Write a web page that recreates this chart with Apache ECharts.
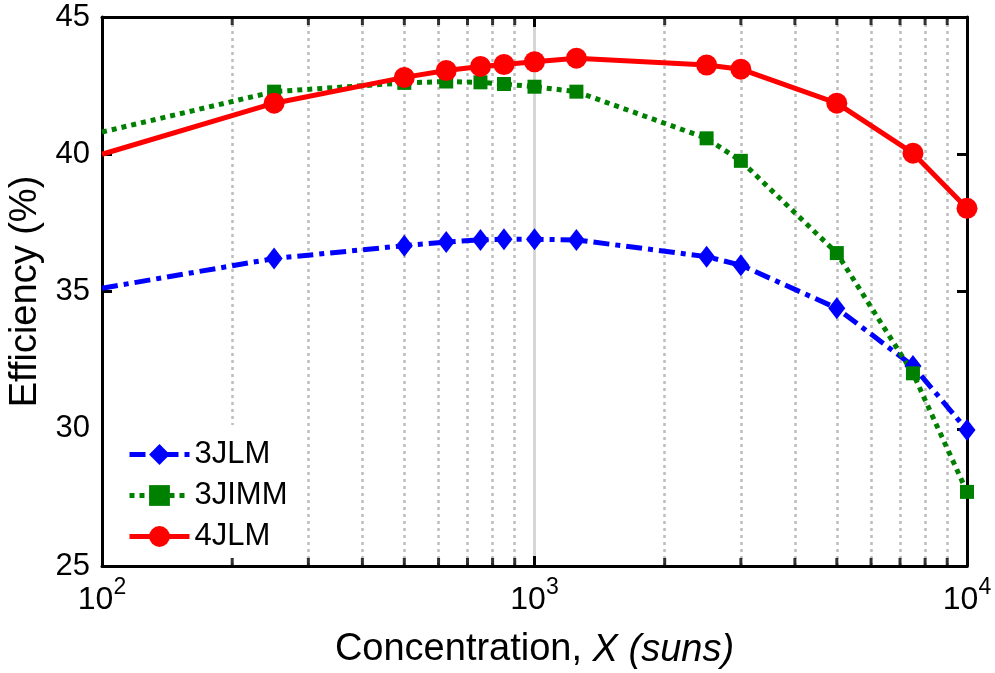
<!DOCTYPE html>
<html>
<head>
<meta charset="utf-8">
<script src="https://cdn.jsdelivr.net/npm/echarts@6/dist/echarts.min.js"></script>
<style>html,body{margin:0;padding:0;background:#fff}#c{width:995px;height:673px}</style>
</head>
<body>
<div id="c"></div>
<script>
// Concentration (suns)
const concentration = [100, 250, 500, 625, 750, 850, 1000, 1250, 2500, 3000, 5000, 7500, 10000];
// Efficiency (%)
const eff3JLM  = [35.12, 36.2, 36.67, 36.8, 36.88, 36.9, 36.9, 36.88, 36.27, 35.96, 34.39, 32.29, 29.95];
const eff3JIMM = [40.81, 42.28, 42.6, 42.65, 42.62, 42.56, 42.46, 42.28, 40.58, 39.76, 36.4, 32.02, 27.7];
const eff4JLM  = [40.0, 41.86, 42.8, 43.05, 43.2, 43.27, 43.37, 43.5, 43.25, 43.1, 41.86, 40.04, 38.03];
const seriesNames = ['3JLM', '3JIMM', '4JLM'];
// minor ticks / minor grid positions
const minorTicks = [200, 300, 400, 500, 600, 700, 800, 900, 2000, 3000, 4000, 5000, 6000, 7000, 8000, 9000];
const yTicks = [25, 30, 35, 40, 45];

const FONT = 'Liberation Sans, Arial, sans-serif';

function buildData(vals) {
  return concentration.map((x, i) => i === 0 ? { value: [x, vals[i]], symbol: 'none' } : [x, vals[i]]);
}

const chart = echarts.init(document.getElementById('c'));
const option = {
  animation: false,
  backgroundColor: '#fff',
  grid: { left: 102, right: 28, top: 17, bottom: 107, containLabel: false, outerBoundsMode: 'none' },
  legend: {
    data: seriesNames,
    orient: 'vertical',
    left: 104, top: 425,
    itemWidth: 60, itemHeight: 26, itemGap: 10,
    backgroundColor: '#fff',
    padding: [14, 14, 6, 23],
    lineStyle: { width: 5 },
    textStyle: { fontFamily: FONT, fontSize: 31, color: '#000' }
  },
  xAxis: [{
    type: 'log', logBase: 10, min: 100, max: 10000,
    axisLine: { show: true, lineStyle: { color: '#000', width: 3 } },
    axisTick: { show: true, inside: true, length: 10, lineStyle: { color: '#000', width: 3 } },
    splitLine: { show: true, lineStyle: { color: '#d6d6d6', width: 3 } },
    axisLabel: {
      margin: 10,
      formatter: v => '{b|10}{s|' + Math.round(Math.log10(v)) + '}',
      rich: {
        b: { fontFamily: FONT, fontSize: 32, color: '#000' },
        s: { fontFamily: FONT, fontSize: 23, color: '#000', padding: [0, 0, 26, 0] }
      }
    },
    name: '{n|Concentration, }{i|X (suns)}',
    nameLocation: 'middle', nameGap: 65,
    nameTextStyle: {
      rich: {
        n: { fontFamily: FONT, fontSize: 38, color: '#000' },
        i: { fontFamily: FONT, fontSize: 38, color: '#000', fontStyle: 'italic' }
      }
    }
  }, {
    type: 'log', logBase: 10, min: 100, max: 10000, position: 'top',
    axisLine: { show: true, lineStyle: { color: '#000', width: 3 } },
    axisTick: { show: true, inside: true, length: 10, lineStyle: { color: '#000', width: 3 } },
    axisLabel: { show: false }, splitLine: { show: false }
  }],
  yAxis: [{
    type: 'value', min: 25, max: 45, interval: 5,
    axisLine: { show: true, lineStyle: { color: '#000', width: 3 } },
    axisTick: { show: true, inside: true, length: 10, lineStyle: { color: '#000', width: 3 } },
    splitLine: { show: false },
    axisLabel: { fontFamily: FONT, fontSize: 31, color: '#000', margin: 12 },
    name: 'Efficiency (%)', nameLocation: 'middle', nameGap: 54, nameRotate: 90,
    nameTextStyle: { fontFamily: FONT, fontSize: 38, color: '#000' }
  }, {
    type: 'value', min: 25, max: 45, interval: 5, position: 'right',
    axisLine: { show: true, lineStyle: { color: '#000', width: 3 } },
    axisTick: { show: true, inside: true, length: 10, lineStyle: { color: '#000', width: 3 } },
    axisLabel: { show: false }, splitLine: { show: false }
  }],
  series: [
    {
      name: 'minorBottom', type: 'scatter', z: 1, silent: true,
      data: minorTicks.map(x => [x, yTicks[0]]),
      symbol: 'rect', symbolSize: [3, 8], symbolOffset: [0, -4],
      itemStyle: { color: '#000' }, clip: false,
      markLine: {
        silent: true, symbol: 'none', label: { show: false }, z: 0,
        lineStyle: { color: '#bdbdbd', type: [3, 4], width: 2.5 },
        data: minorTicks.map(x => ({ xAxis: x }))
      }
    },
    {
      name: 'minorTop', type: 'scatter', z: 1, silent: true,
      data: minorTicks.map(x => [x, yTicks[yTicks.length - 1]]),
      symbol: 'rect', symbolSize: [3, 8], symbolOffset: [0, 4],
      itemStyle: { color: '#000' }, clip: false
    },
    {
      name: '3JLM', type: 'line', z: 3,
      data: buildData(eff3JLM),
      symbol: 'diamond', symbolSize: [17, 22],
      lineStyle: { color: '#0000ff', width: 5, type: [16, 6, 5, 6] },
      itemStyle: { color: '#0000ff' }
    },
    {
      name: '3JIMM', type: 'line', z: 3,
      data: buildData(eff3JIMM),
      symbol: 'rect', symbolSize: 14,
      lineStyle: { color: '#008000', width: 5, type: [5, 5] },
      itemStyle: { color: '#008000' }
    },
    {
      name: '4JLM', type: 'line', z: 3,
      data: buildData(eff4JLM),
      symbol: 'circle', symbolSize: 21,
      lineStyle: { color: '#ff0000', width: 5, type: 'solid' },
      itemStyle: { color: '#ff0000' }
    }
  ]
};
chart.setOption(option);
</script>
</body>
</html>
